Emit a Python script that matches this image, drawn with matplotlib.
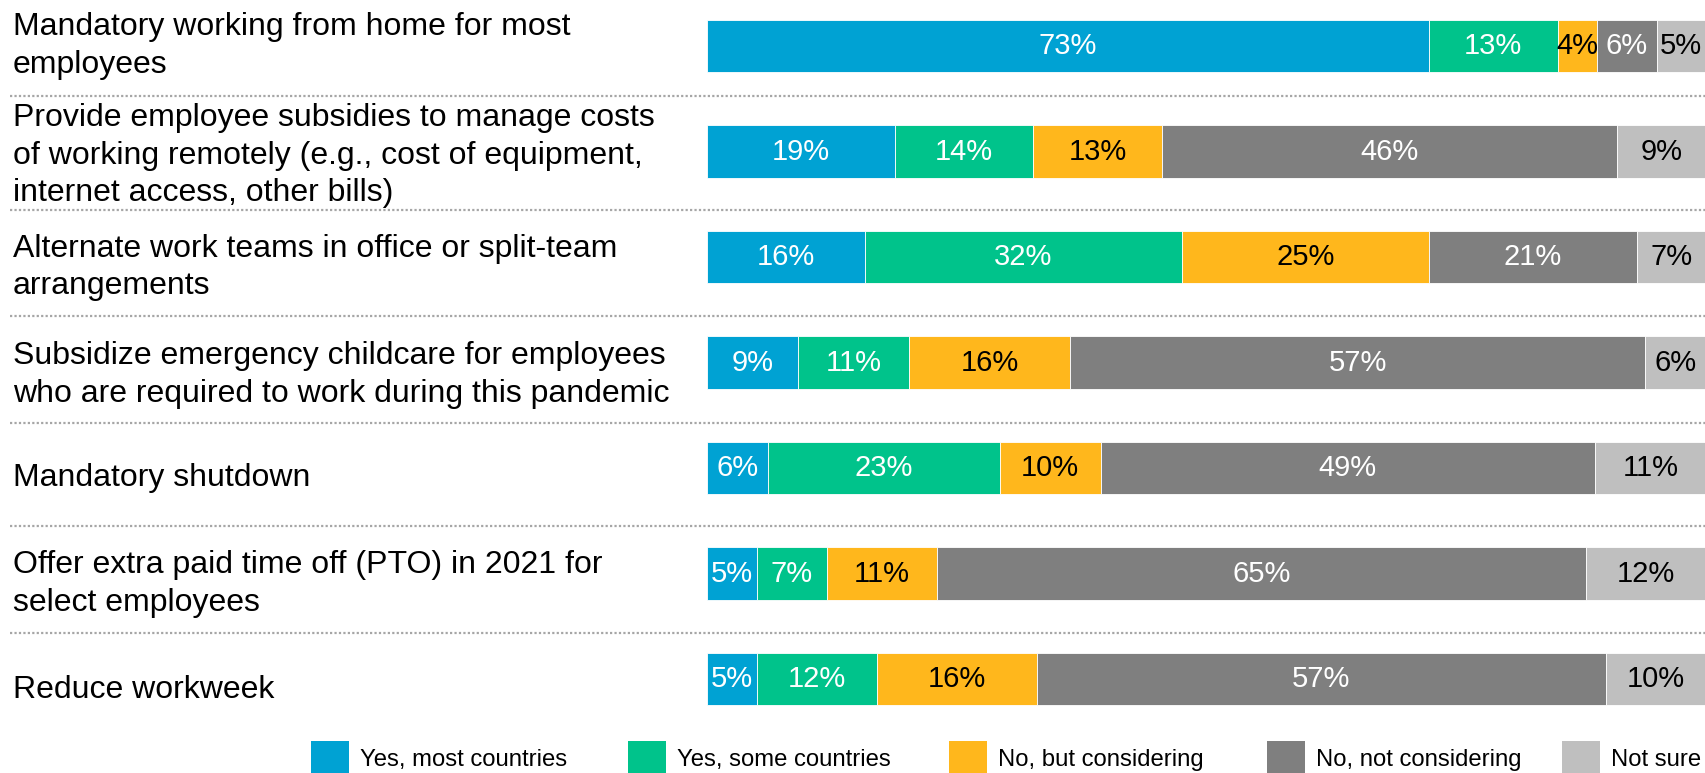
import matplotlib
matplotlib.use('Agg')
import matplotlib.pyplot as plt
import matplotlib.transforms as mtransforms
from matplotlib.patches import Rectangle

plt.rcParams['font.family'] = ['Liberation Sans', 'DejaVu Sans']

# Measures, top to bottom
measures = [
    'Mandatory working from home for most\nemployees',
    'Provide employee subsidies to manage costs\nof working remotely (e.g., cost of equipment,\ninternet access, other bills)',
    'Alternate work teams in office or split-team\narrangements',
    'Subsidize emergency childcare for employees\nwho are required to work during this pandemic',
    'Mandatory shutdown',
    'Offer extra paid time off (PTO) in 2021 for\nselect employees',
    'Reduce workweek',
]

responses = ['Yes, most countries', 'Yes, some countries', 'No, but considering',
             'No, not considering', 'Not sure']

yes_most = [73, 19, 16, 9, 6, 5, 5]
yes_some = [13, 14, 32, 11, 23, 7, 12]
considering = [4, 13, 25, 16, 10, 11, 16]
not_considering = [6, 46, 21, 57, 49, 65, 57]
not_sure = [5, 9, 7, 6, 11, 12, 10]

series = [yes_most, yes_some, considering, not_considering, not_sure]
colors = ['#00A2D3', '#00C38B', '#FFB71C', '#7F7F7F', '#BFBFBF']
label_colors = ['white', 'white', 'black', 'white', 'black']

# separator lines sit between rows (row index units)
separators = [0.47, 1.55, 2.56, 3.57, 4.55, 5.56]
# small downward nudge of the row labels
label_shift = [0.0, 0.04, 0.1, 0.12, 0.09, 0.1, 0.1]
# legend swatch left edges, in pixels
legend_x = [311, 628, 949, 1267, 1562]

W, H = 1706, 773
fig = plt.figure(figsize=(W / 100, H / 100), dpi=100)
bar_left = 707 / W
ax = fig.add_axes([bar_left, 0, 1 - bar_left, 1])
ax.set_xlim(0, 100)
ax.set_ylim(6.89, -0.436)
ax.axis('off')

rows = range(len(measures))
totals = [sum(s[i] for s in series) for i in rows]

lefts = [0.0] * len(measures)
for vals, col, tcol in zip(series, colors, label_colors):
    widths = [v / t * 100 for v, t in zip(vals, totals)]
    ax.barh(list(rows), widths, left=lefts, height=0.5, color=col,
            edgecolor='white', linewidth=0.6)
    for i, (v, w) in enumerate(zip(vals, widths)):
        ax.text(lefts[i] + w / 2, i, f'{v}%', ha='center', va='center',
                fontsize=21, color=tcol)
    lefts = [l + w for l, w in zip(lefts, widths)]

# row labels and dotted separators span the full figure width
trans = mtransforms.blended_transform_factory(fig.transFigure, ax.transData)
for i, name in enumerate(measures):
    ax.text(13 / W, i + label_shift[i], name, transform=trans, ha='left', va='center',
            fontsize=23, color='black', linespacing=1.33, clip_on=False)
for y in separators:
    ax.plot([10 / W, 1.0], [y, y], transform=trans, color='#A6A6A6',
            linestyle=(0, (1, 1)), linewidth=1.6, clip_on=False)

# legend row along the bottom edge; swatches run off the bottom
for x, col, name in zip(legend_x, colors, responses):
    fig.add_artist(Rectangle((x / W, (H - 741 - 40) / H), 38 / W, 40 / H,
                             transform=fig.transFigure, facecolor=col,
                             edgecolor='none', clip_on=False))
    fig.text((x + 49) / W, 1 - 760 / H, name, ha='left', va='center',
             fontsize=17.2, color='black')

fig.savefig('out.png', dpi=100)
